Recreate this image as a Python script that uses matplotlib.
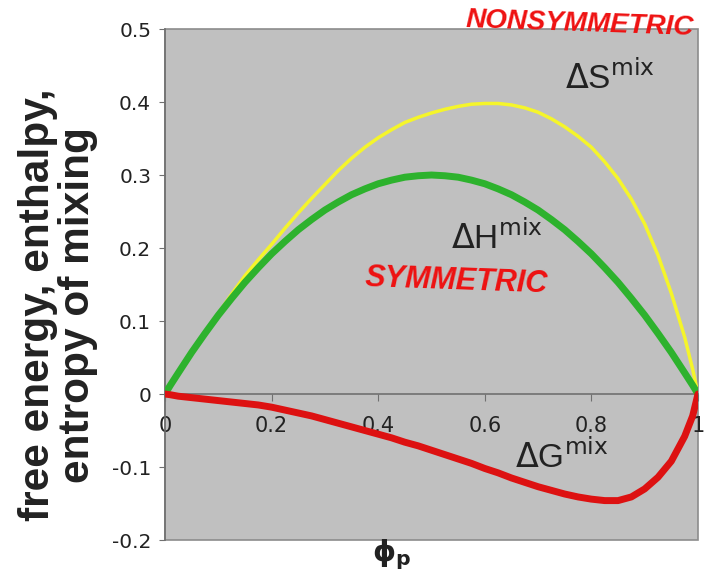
from matplotlib import pyplot as plt

# values
phi = [0, 0.01, 0.025, 0.05, 0.075, 0.1, 0.125, 0.15, 0.175, 0.2, 0.225, 0.25,
       0.275, 0.3, 0.325, 0.35, 0.375, 0.4, 0.425, 0.45, 0.475, 0.5, 0.525,
       0.55, 0.575, 0.6, 0.625, 0.65, 0.675, 0.7, 0.725, 0.75, 0.775, 0.8,
       0.825, 0.85, 0.875, 0.9, 0.925, 0.95, 0.975, 0.99, 1]
d_s = [0, 0.012, 0.03, 0.058, 0.084, 0.11, 0.137, 0.162, 0.184, 0.205, 0.227,
       0.248, 0.268, 0.287, 0.306, 0.323, 0.338, 0.351, 0.362, 0.372, 0.379,
       0.385, 0.39, 0.394, 0.397, 0.398, 0.398, 0.396, 0.392, 0.386, 0.377,
       0.366, 0.353, 0.338, 0.318, 0.295, 0.267, 0.233, 0.19, 0.138, 0.078,
       0.034, 0]
d_h = [0, 0.012, 0.029, 0.057, 0.083, 0.108, 0.131, 0.153, 0.173, 0.192, 0.209,
       0.225, 0.239, 0.252, 0.263, 0.273, 0.281, 0.288, 0.293, 0.297, 0.299,
       0.3, 0.299, 0.297, 0.293, 0.288, 0.281, 0.273, 0.263, 0.252, 0.239,
       0.225, 0.209, 0.192, 0.173, 0.153, 0.131, 0.108, 0.083, 0.057, 0.029,
       0.012, 0]
d_g = [0, -0.001, -0.003, -0.005, -0.007, -0.009, -0.011, -0.013, -0.015,
       -0.018, -0.022, -0.026, -0.03, -0.035, -0.04, -0.045, -0.05, -0.055,
       -0.06, -0.066, -0.071, -0.077, -0.083, -0.089, -0.095, -0.102, -0.108,
       -0.115, -0.121, -0.127, -0.132, -0.137, -0.141, -0.144, -0.146, -0.146,
       -0.141, -0.13, -0.114, -0.092, -0.058, -0.03, 0]

x_ticks = [0, 0.2, 0.4, 0.6, 0.8, 1]
x_tick_labels = ['0', '0.2', '0.4', '0.6', '0.8', '1']
y_ticks = [-0.2, -0.1, 0, 0.1, 0.2, 0.3, 0.4, 0.5]
y_tick_labels = ['-0.2', '-0.1', '0', '0.1', '0.2', '0.3', '0.4', '0.5']

fig = plt.figure(figsize=(7.15, 5.85), dpi=100)
ax = fig.add_axes([0.2308, 0.0769, 0.7454, 0.8735])
ax.set_facecolor('#c0c0c0')
ax.patch.set_edgecolor('#8c8c8c')
ax.patch.set_linewidth(1.2)

ax.plot(phi, d_s, color='#f5f52a', lw=2.5, solid_capstyle='round',
        solid_joinstyle='round', zorder=3)
ax.plot(phi, d_h, color='#2db22d', lw=5, solid_capstyle='round',
        solid_joinstyle='round', zorder=4)
ax.plot(phi, d_g, color='#dd1111', lw=5, solid_capstyle='round',
        solid_joinstyle='round', zorder=5)

ax.set_xlim(0, 1)
ax.set_ylim(-0.2, 0.5)
ax.spines['top'].set_visible(False)
ax.spines['right'].set_visible(False)
ax.spines['bottom'].set_position(('data', 0))
for s in ['left', 'bottom']:
    ax.spines[s].set_color('#707070')
    ax.spines[s].set_linewidth(1.2)
    ax.spines[s].set_zorder(2)

ax.set_xticks(x_ticks)
ax.set_xticklabels(x_tick_labels)
ax.set_yticks(y_ticks)
ax.set_yticklabels(y_tick_labels)
ax.tick_params(axis='x', direction='out', length=5, color='#707070',
               labelsize=15, labelcolor='#222222', pad=11)
ax.tick_params(axis='y', direction='out', length=4, color='#707070',
               labelsize=14.5, labelcolor='#222222', pad=6)
for t in ax.get_xticklabels():
    t.set_zorder(6)

fig.text(0.081, 0.479, 'free energy, enthalpy,\nentropy of mixing',
         fontsize=30.5, fontweight='bold', family='Liberation Sans',
         rotation=90, ha='center', va='center', multialignment='center',
         linespacing=1.0, color='#222222')
fig.text(0.548, 0.052, r'$\mathbf{\phi_p}$', fontsize=21, ha='center',
         va='center', color='#222222')

lab = dict(family='Liberation Sans', color='#222222', zorder=7)
ax.text(0.835, 0.433, r'$\Delta$S$^{\mathrm{mix}}$', fontsize=24,
        ha='center', va='center', **lab)
ax.text(0.623, 0.213, r'$\Delta$H$^{\mathrm{mix}}$', fontsize=24,
        ha='center', va='center', **lab)
ax.text(0.745, -0.086, r'$\Delta$G$^{\mathrm{mix}}$', fontsize=24,
        ha='center', va='center', **lab)

note = dict(family='Liberation Sans', color='#ee1111', fontweight='bold',
            fontstyle='italic', zorder=7)
ax.text(0.779, 0.507, 'NONSYMMETRIC', fontsize=20, ha='center', va='center',
        rotation=-2, clip_on=False, **note)
ax.text(0.546, 0.154, 'SYMMETRIC', fontsize=22, ha='center', va='center',
        rotation=-2, **note)

fig.savefig('out.png', dpi=100)
